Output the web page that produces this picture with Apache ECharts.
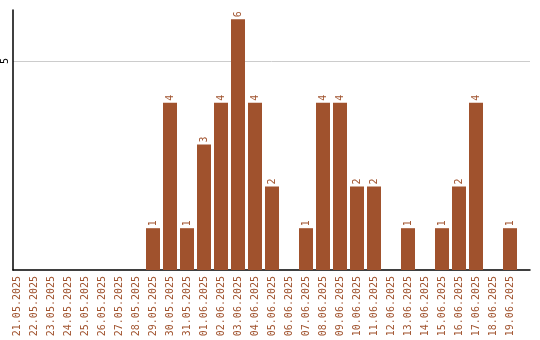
<!DOCTYPE html>
<html><head><meta charset="utf-8">
<script src="https://cdn.jsdelivr.net/npm/echarts@6/dist/echarts.min.js"></script>
<style>html,body{margin:0;padding:0;background:#fff}#c{width:540px;height:340px}</style>
</head><body><div id="c"></div>
<script>
const categories = ["21.05.2025","22.05.2025","23.05.2025","24.05.2025","25.05.2025","26.05.2025","27.05.2025","28.05.2025","29.05.2025","30.05.2025","31.05.2025","01.06.2025","02.06.2025","03.06.2025","04.06.2025","05.06.2025","06.06.2025","07.06.2025","08.06.2025","09.06.2025","10.06.2025","11.06.2025","12.06.2025","13.06.2025","14.06.2025","15.06.2025","16.06.2025","17.06.2025","18.06.2025","19.06.2025"];
const values = [0,0,0,0,0,0,0,0,1,4,1,3,4,6,4,2,0,1,4,4,2,2,0,1,0,1,2,4,0,1];
const yTicks = [5];

const font = 'DejaVu Sans Mono';
const color = '#a0522d';
const yMax = 6.22;

const chart = echarts.init(document.getElementById('c'), null, {renderer:'canvas'});
chart.setOption({
  animation: false,
  grid: [
    {left: 8.5, right: 21.5, top: 10, bottom: 70},
    {left: 10, right: 10, top: 10, bottom: 70}
  ],
  xAxis: [
    {type:'category', gridIndex:0, data: categories,
     axisLine:{show:false}, axisTick:{show:false},
     axisLabel:{interval:0, rotate:90, margin:6, color:color, fontFamily:font, fontSize:10}},
    {type:'value', gridIndex:1, min:0, max:1, show:true,
     axisLine:{show:true, onZero:false, lineStyle:{color:'#000', width:1.5}},
     axisTick:{show:false}, axisLabel:{show:false}, splitLine:{show:false}}
  ],
  yAxis: [
    {type:'value', gridIndex:0, min:0, max:yMax, show:false, splitLine:{show:false}},
    {type:'value', gridIndex:1, min:0, max:yMax, interval:5,
     axisLine:{show:true, lineStyle:{color:'#000', width:1.5}},
     axisTick:{show:false},
     axisLabel:{showMinLabel:false, showMaxLabel:false, rotate:90, margin:3, color:'#000', fontFamily:font, fontSize:10,
       formatter: v => yTicks.includes(v) ? String(v) : ''},
     splitLine:{show:true, showMinLine:false, showMaxLine:false, lineStyle:{color:'#cccccc', width:1}}}
  ],
  series: [{
    type:'bar', xAxisIndex:0, yAxisIndex:0, data: values.map(v => v === 0 ? null : v),
    barWidth: 14,
    itemStyle:{color:color},
    label:{show:true, position:'top', rotate:90, distance:2, align:'left', verticalAlign:'middle',
      color:color, fontFamily:font, fontSize:10}
  }]
});
</script></body></html>
